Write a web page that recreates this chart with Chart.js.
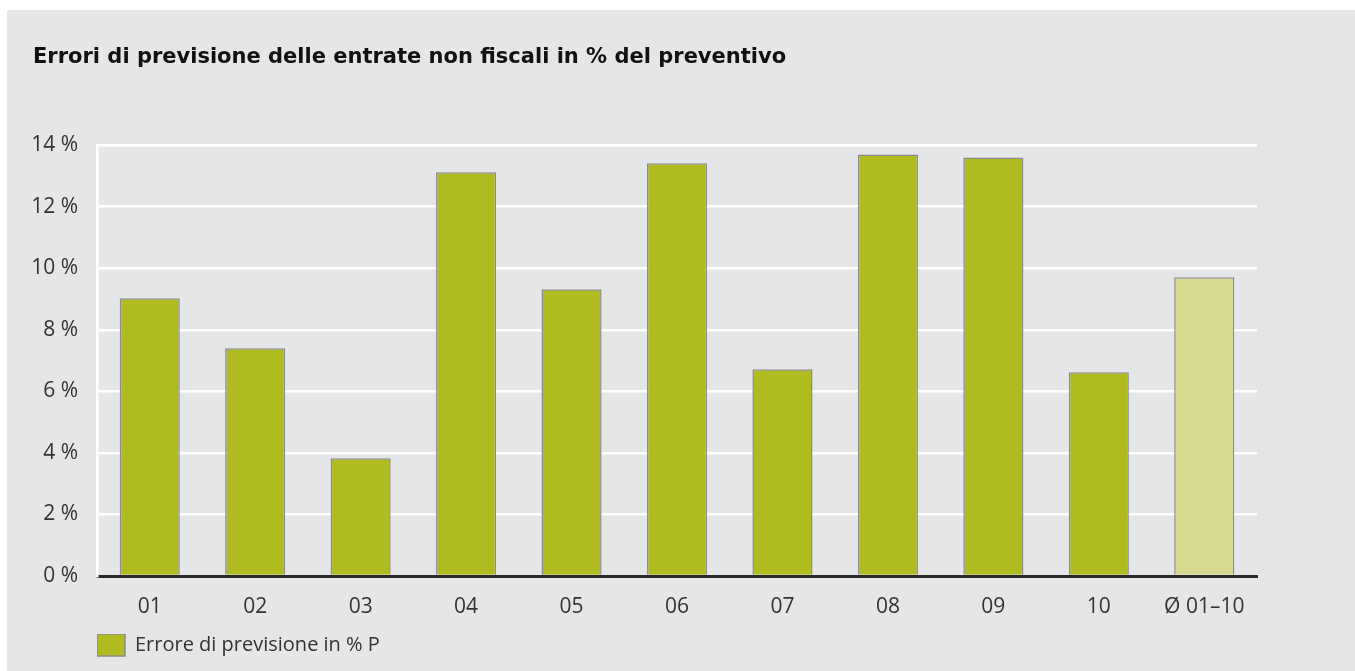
<!DOCTYPE html>
<html>
<head>
<meta charset="utf-8">
<script src="https://cdn.jsdelivr.net/npm/chart.js@4"></script>
<style>
  body { margin: 0; background: #fff; }
  #chart { position: absolute; left: 7px; top: 10px; background: #e5e6e8; }
</style>
</head>
<body>
<canvas id="chart" width="1348" height="661"></canvas>
<script>
// data
const years = ["01", "02", "03", "04", "05", "06", "07", "08", "09", "10", "Ø 01–10"];
const errors = [9.03, 7.4, 3.83, 13.12, 9.32, 13.41, 6.72, 13.7, 13.6, 6.62, 9.71];
const yTicks = [0, 2, 4, 6, 8, 10, 12, 14];

const green = "#b0bb20";
const lightGreen = "#d6d98e";
const textColor = "#333333";

// bar colour: the average bar is lighter
function barColor(ctx) {
  if (ctx.dataIndex === years.length - 1) {
    return lightGreen;
  }
  return green;
}

new Chart(document.querySelector("#chart").getContext("2d"), {
  type: "bar",
  data: {
    labels: years,
    datasets: [{
      label: "Errore di previsione in % P",
      data: errors,
      backgroundColor: barColor,
      borderColor: "#8c8c8c",
      borderWidth: 1.5,
      borderSkipped: "bottom",
      barPercentage: 0.57,
      categoryPercentage: 1,
    }],
  },
  options: {
    responsive: false,
    animation: false,
    layout: { padding: { left: 26, right: 98, top: 0, bottom: 5 } },
    plugins: {
      title: {
        display: true,
        text: "Errori di previsione delle entrate non fiscali in % del preventivo",
        align: "start",
        color: "#111111",
        font: { family: "DejaVu Sans", size: 21, weight: "bold" },
        padding: { top: 35, bottom: 75 },
      },
      legend: {
        position: "bottom",
        align: "start",
        fullSize: false,
        labels: {
          boxWidth: 28,
          boxHeight: 22,
          color: textColor,
          font: { family: "Open Sans", size: 20 },
          padding: 0,
        },
      },
      tooltip: { enabled: false },
    },
    scales: {
      x: {
        z: 1,
        afterFit: (scale) => {
          scale.height = 58;
        },
        grid: { display: false, drawTicks: false },
        border: { display: true, color: "#2a2a2a", width: 3 },
        ticks: {
          color: textColor,
          padding: 18,
          font: { family: "Open Sans", size: 21 },
        },
      },
      y: {
        min: 0,
        max: 14,
        afterBuildTicks: (scale) => {
          scale.ticks = yTicks.map((v) => ({ value: v }));
        },
        afterFit: (scale) => {
          scale.width = 64;
        },
        grid: { color: "#ffffff", lineWidth: 2.5, drawTicks: false },
        border: { display: true, color: "#ffffff", width: 2.5 },
        ticks: {
          color: textColor,
          padding: 19,
          font: { family: "Open Sans", size: 21 },
          callback: (v) => v + " %",
        },
      },
    },
  },
});
</script>
</body>
</html>
